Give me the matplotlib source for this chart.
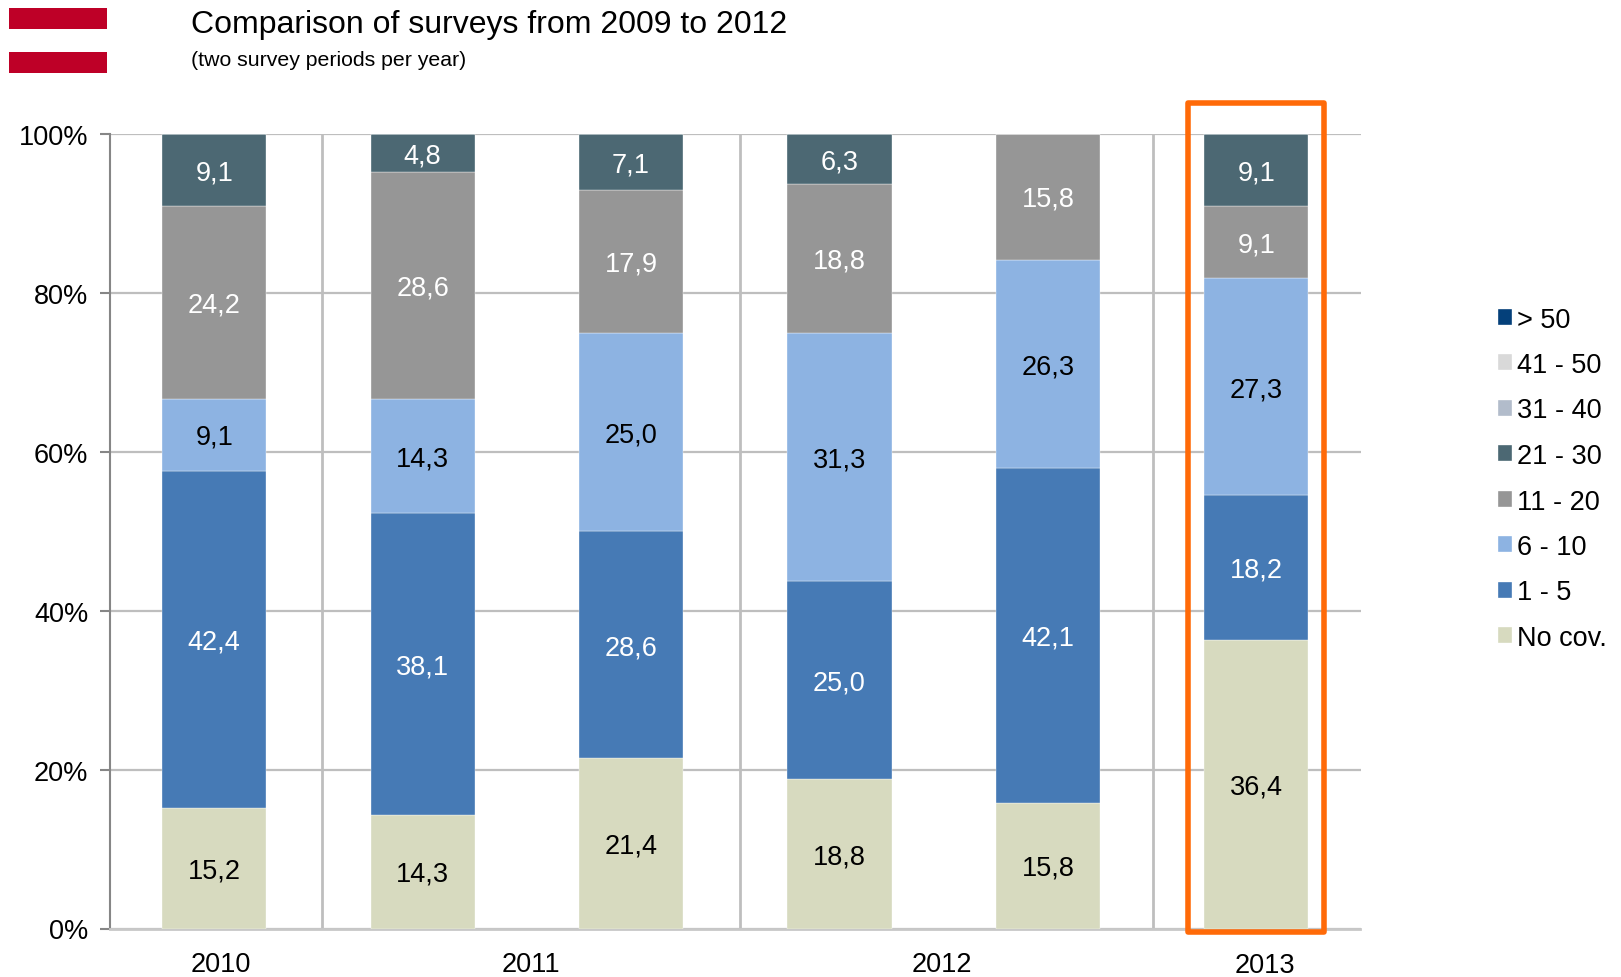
"""Stacked bars of survey coverage shares by period."""
import matplotlib
matplotlib.use('Agg')
import matplotlib.pyplot as plt
from matplotlib.patches import Rectangle
from matplotlib.transforms import blended_transform_factory
import numpy as np

W, H = 1621, 978

series = ['No cov.', '1 - 5', '6 - 10', '11 - 20', '21 - 30', '31 - 40', '41 - 50', '> 50']
no_cov = [15.2, 14.3, 21.4, 18.8, 15.8, 36.4]
one_five = [42.4, 38.1, 28.6, 25.0, 42.1, 18.2]
six_ten = [9.1, 14.3, 25.0, 31.3, 26.3, 27.3]
eleven_twenty = [24.2, 28.6, 17.9, 18.8, 15.8, 9.1]
twentyone_thirty = [9.1, 4.8, 7.1, 6.3, 0, 9.1]
thirtyone_forty = [0, 0, 0, 0, 0, 0]
fortyone_fifty = [0, 0, 0, 0, 0, 0]
over_fifty = [0, 0, 0, 0, 0, 0]
values = [no_cov, one_five, six_ten, eleven_twenty, twentyone_thirty,
          thirtyone_forty, fortyone_fifty, over_fifty]

colors = ['#D7DABF', '#467AB5', '#8DB3E2', '#969696', '#4C6873', '#B2BCCB', '#D9D9D9', '#04407A']
text_colors = ['black', 'white', 'black', 'white', 'white', 'black', 'black', 'white']

years = ['2010', '2011', '2012', '2013']
year_pos = [0.03, 1.52, 3.49, 5.04]
separators = [0.515, 2.525, 4.505]

FS = 19.5
plt.rcParams['font.family'] = ['Liberation Sans', 'DejaVu Sans']

fig = plt.figure(figsize=(W / 100, H / 100), dpi=100)
ax = fig.add_axes([110 / W, 1 - 929.5 / H, 1250.5 / W, 794.5 / H])

x = np.arange(6)
bottom = np.zeros(6)
# rounded shares do not always add up to exactly 100, so each column is rescaled
totals = np.sum(values, axis=0)
handles = []
for name, vals, col, tc in zip(series, values, colors, text_colors):
    vals = np.array(vals, dtype=float)
    heights = vals / totals * 100
    bars = ax.bar(x, heights, width=0.5, bottom=bottom, color=col, edgecolor='white',
                  linewidth=0.25, label=name, zorder=3)
    handles.append(bars)
    for xi, v, h, b in zip(x, vals, heights, bottom):
        if v > 0:
            ax.text(xi, b + h / 2 + 0.1, f'{v:.1f}'.replace('.', ','), color=tc, fontsize=FS,
                    ha='center', va='center_baseline', zorder=4)
    bottom += heights

ax.set_xlim(-0.5, 5.5)
ax.set_ylim(0, 100)
ax.set_yticks(range(0, 101, 20))
ax.set_yticklabels([f'{v}%' for v in range(0, 101, 20)], fontsize=FS)
ax.tick_params(axis='y', length=7, width=1.5, color='#868686', pad=8.5)
ax.set_xticks([])
ax.grid(axis='y', color='#BEBEBE', linewidth=1.6, zorder=1)
ax.set_axisbelow(True)
ax.vlines(separators, 0, 100, color='#BEBEBE', linewidth=2, zorder=1)

for side in ['top', 'right']:
    ax.spines[side].set_visible(False)
ax.spines['left'].set_color('#868686')
ax.spines['left'].set_linewidth(1.5)
ax.spines['bottom'].set_color('#C8C8C8')
ax.spines['bottom'].set_linewidth(2)

# year labels sit under their groups of bars
year_trans = blended_transform_factory(ax.transData, fig.transFigure)
for yr, pos in zip(years, year_pos):
    y_px = 966 if yr == '2013' else 965
    ax.text(pos, 1 - y_px / H, yr, transform=year_trans, fontsize=FS, ha='center', va='center')

leg = fig.legend(handles[::-1], series[::-1], loc='upper left',
                 bbox_to_anchor=(1497.5 / W, 1 - 307.5 / H), bbox_transform=fig.transFigure,
                 frameon=False, fontsize=FS, handlelength=0.535, handleheight=0.535,
                 handletextpad=0.17, labelspacing=0.72, borderpad=0, borderaxespad=0)

# highlight box around the last period
fig.add_artist(Rectangle((1187.5 / W, 1 - 932.5 / H), 136.5 / W, 829 / H, transform=fig.transFigure,
                         fill=False, edgecolor='#FF6A08', linewidth=4, joinstyle='round', zorder=10))

# flag
flag_stripes = [(9, 21.3, '#BE0027'), (30.3, 22.4, 'white'), (52.7, 21.3, '#BE0027')]
for top, height, col in flag_stripes:
    fig.add_artist(Rectangle((9 / W, 1 - (top + height) / H), 98 / W, height / H,
                             transform=fig.transFigure, facecolor=col, edgecolor='none'))

fig.text(191 / W, 1 - 25 / H, 'Comparison of surveys from 2009 to 2012', fontsize=23, va='center')
fig.text(191 / W, 1 - 61 / H, '(two survey periods per year)', fontsize=15.35, va='center')

fig.savefig('out.png', dpi=100, facecolor='white')
